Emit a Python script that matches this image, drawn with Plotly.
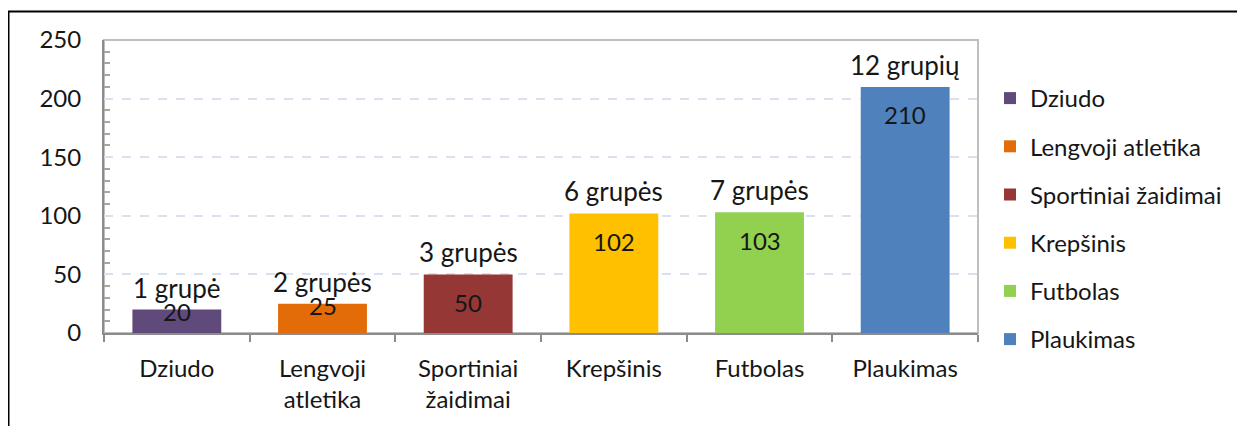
import plotly.graph_objects as go

categories = ["Dziudo", "Lengvoji atletika", "Sportiniai žaidimai", "Krepšinis", "Futbolas", "Plaukimas"]
tick_labels = ["Dziudo", "Lengvoji<br>atletika", "Sportiniai<br>žaidimai", "Krepšinis", "Futbolas", "Plaukimas"]
values = [20, 25, 50, 102, 103, 210]
group_labels = ["1 grupė", "2 grupės", "3 grupės", "6 grupės", "7 grupės", "12 grupių"]
colors = ["#604A7B", "#E36C09", "#953735", "#FFC000", "#92D050", "#4F81BD"]

OFF = 8  # page body margin
W, H = 1245 - OFF, 426 - OFF
L, T = 104 - OFF, 40 - OFF
R = W - (978 - OFF)
B = H - (333 - OFF)
plot_w = W - L - R
plot_h = H - T - B
ymax = 250
px_per_unit = plot_h / ymax

FONT = "Lato"
TXT = "#161616"
fig = go.Figure()
for cat, v, c in zip(categories, values, colors):
    fig.add_trace(go.Bar(
        x=[cat], y=[v], name=cat, marker=dict(color=c, line=dict(width=0)),
        width=0.61, legendgroup=cat, hoverinfo="skip",
    ))

for cat, v, g in zip(categories, values, group_labels):
    fig.add_annotation(x=cat, y=v, text=g, showarrow=False, yanchor="middle",
                       yshift=22, font=dict(size=26, color=TXT, family=FONT))
    shift = -28 if v * px_per_unit > 50 else -2
    fig.add_annotation(x=cat, y=v, text=str(v), showarrow=False, yanchor="middle",
                       yshift=shift, font=dict(size=24, color=TXT, family=FONT))

# outer frame
fig.add_shape(type="rect", xref="paper", yref="paper",
              x0=(8.5 - OFF - L) / plot_w, x1=(W + 20 - L) / plot_w,
              y0=(H - B - (H + 20)) / plot_h, y1=(H - B - (11.5 - OFF)) / plot_h,
              line=dict(color="#000000", width=2), layer="below")
# plot area border
fig.add_shape(type="rect", xref="paper", yref="paper", x0=0, x1=1, y0=0, y1=1,
              line=dict(color="#BFBFBF", width=2), layer="below")

fig.update_layout(
    width=W, height=H,
    margin=dict(l=L, r=R, t=T, b=B),
    paper_bgcolor="white", plot_bgcolor="white",
    barmode="overlay",
    font=dict(family=FONT, size=24, color=TXT),
    showlegend=True,
    legend=dict(x=(990 - OFF - L) / plot_w, xanchor="left", y=(H - B - (76 - OFF)) / plot_h, yanchor="top",
                font=dict(size=24, family=FONT, color=TXT),
                tracegroupgap=14, itemwidth=30, bgcolor="rgba(0,0,0,0)"),
    xaxis=dict(
        type="category", categoryorder="array", categoryarray=categories,
        tickvals=categories, ticktext=tick_labels,
        showline=True, linecolor="#8C8C8C", linewidth=2,
        ticks="outside", ticklen=7, tickwidth=2, tickcolor="#8C8C8C",
        tickson="boundaries", showgrid=False,
        tickfont=dict(size=24, family=FONT, color=TXT),
        ticklabelstandoff=13,
    ),
    yaxis=dict(
        range=[0, ymax], dtick=50, tick0=0,
        showline=True, linecolor="#8C8C8C", linewidth=2,
        ticks="", showgrid=True, gridcolor="#D9E1EE", griddash="dash", gridwidth=1.5,
        zeroline=False,
        minor=dict(dtick=10, ticks="inside", ticklen=6, tickcolor="#A6A6A6", tickwidth=1.5, showgrid=False),
        tickfont=dict(size=24, family=FONT, color=TXT),
        ticklabelstandoff=16,
    ),
)

fig.write_html("out.html")
